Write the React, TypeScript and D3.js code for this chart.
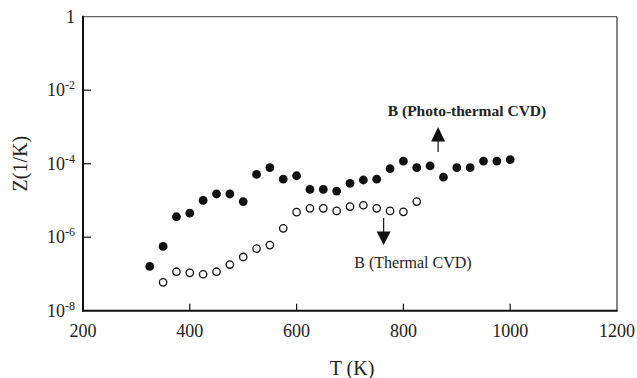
import * as d3 from "d3";

// photo-thermal CVD (filled)
const photoT = [325, 350, 375, 400, 425, 450, 475, 500, 525, 550, 575, 600, 625, 650, 675, 700, 725, 750, 775, 800, 825, 850, 875, 900, 925, 950, 975, 1000];
const photoZ = [1.6e-7, 5.6e-7, 3.6e-6, 4.5e-6, 1.0e-5, 1.5e-5, 1.5e-5, 9.3e-6, 5.1e-5, 7.8e-5, 3.8e-5, 4.7e-5, 2.0e-5, 2.0e-5, 1.8e-5, 2.9e-5, 3.6e-5, 3.8e-5, 7.3e-5, 1.17e-4, 7.8e-5, 8.7e-5, 4.3e-5, 7.8e-5, 7.8e-5, 1.18e-4, 1.18e-4, 1.29e-4];

// thermal CVD (open)
const thermalT = [350, 375, 400, 425, 450, 475, 500, 525, 550, 575, 600, 625, 650, 675, 700, 725, 750, 775, 800, 825];
const thermalZ = [5.9e-8, 1.15e-7, 1.07e-7, 9.8e-8, 1.15e-7, 1.8e-7, 2.9e-7, 4.9e-7, 6.1e-7, 1.74e-6, 4.8e-6, 6.1e-6, 6.1e-6, 5.2e-6, 6.8e-6, 7.4e-6, 6.1e-6, 5.2e-6, 4.9e-6, 9.3e-6];

const xTicks = [200, 400, 600, 800, 1000, 1200];
const yTicks = [1, 1e-2, 1e-4, 1e-6, 1e-8];
const yTickExp = ["", "-2", "-4", "-6", "-8"];

const W = 637, H = 378;
const m = { left: 83, top: 16.7, right: 20, bottom: 67.3 };
const font = "'Liberation Serif', 'Times New Roman', serif";

export default function App() {
  const x = d3.scaleLinear().domain([200, 1200]).range([m.left, W - m.right]);
  const y = d3.scaleLog().domain([1e-8, 1]).range([H - m.bottom, m.top]);
  const x0 = x(200), x1 = x(1200), y0 = y(1e-8), y1 = y(1);

  // arrows point toward each series
  const upX = x(865), downX = x(763);

  return (
    <svg width={W} height={H} style={{ position: "absolute", left: 0, top: 0, background: "#fff" }} fontFamily={font}>
      {/* frame */}
      <line x1={x0} x2={x1} y1={y1} y2={y1} stroke="#666" strokeWidth={1.3} />
      <line x1={x1} x2={x1} y1={y1} y2={y0} stroke="#444" strokeWidth={1.3} />
      <line x1={x0} x2={x0} y1={y1 - 1} y2={y0 + 1} stroke="#111" strokeWidth={2} />
      <line x1={x0 - 1} x2={x1 + 0.6} y1={y0} y2={y0} stroke="#111" strokeWidth={2} />

      {/* x ticks */}
      {xTicks.map((t) => (
        <g key={"x" + t}>
          {t > 200 && t < 1200 && (
            <line x1={x(t)} x2={x(t)} y1={y0} y2={y0 - 7} stroke="#111" strokeWidth={1.2} />
          )}
          <text x={x(t)} y={337} textAnchor="middle" fontSize={18} fill="#222">{t}</text>
        </g>
      ))}

      {/* y ticks */}
      {yTicks.map((t, i) => (
        <g key={"y" + i}>
          {i > 0 && i < yTicks.length - 1 && (
            <line x1={x0} x2={x0 + 8} y1={y(t)} y2={y(t)} stroke="#111" strokeWidth={1.2} />
          )}
          <text x={75} y={y(t) + 6} textAnchor="end" fontSize={18} fill="#222">
            {i === 0 ? "1" : (
              <>
                <tspan>10</tspan>
                <tspan fontSize={12} dy={-7}>{yTickExp[i]}</tspan>
              </>
            )}
          </text>
        </g>
      ))}

      {/* axis titles */}
      <text x={352} y={375} textAnchor="middle" fontSize={20} fill="#222">T (K)</text>
      <text transform={`translate(27, ${(y0 + y1) / 2}) rotate(-90)`} textAnchor="middle" fontSize={20} fill="#222">Z(1/K)</text>

      {/* data */}
      {photoT.map((t, i) => (
        <circle key={"p" + i} cx={x(t)} cy={y(photoZ[i])} r={4.4} fill="#111" />
      ))}
      {thermalT.map((t, i) => (
        <circle key={"t" + i} cx={x(t)} cy={y(thermalZ[i])} r={3.7} fill="#fff" stroke="#111" strokeWidth={1.3} />
      ))}

      {/* annotations */}
      <line x1={upX} x2={upX} y1={152} y2={140} stroke="#111" strokeWidth={1.2} />
      <path d={`M${upX - 7},${141.5}L${upX + 7},${141.5}L${upX},${127}Z`} fill="#111" />
      <text x={467} y={116} textAnchor="middle" fontSize={15.5} fontWeight="bold" fill="#222">B (Photo-thermal CVD)</text>

      <line x1={downX} x2={downX} y1={218} y2={233} stroke="#111" strokeWidth={1.2} />
      <path d={`M${downX - 7},${231.5}L${downX + 7},${231.5}L${downX},${245}Z`} fill="#111" />
      <text x={413} y={268} textAnchor="middle" fontSize={16} fill="#222">B (Thermal CVD)</text>
    </svg>
  );
}
